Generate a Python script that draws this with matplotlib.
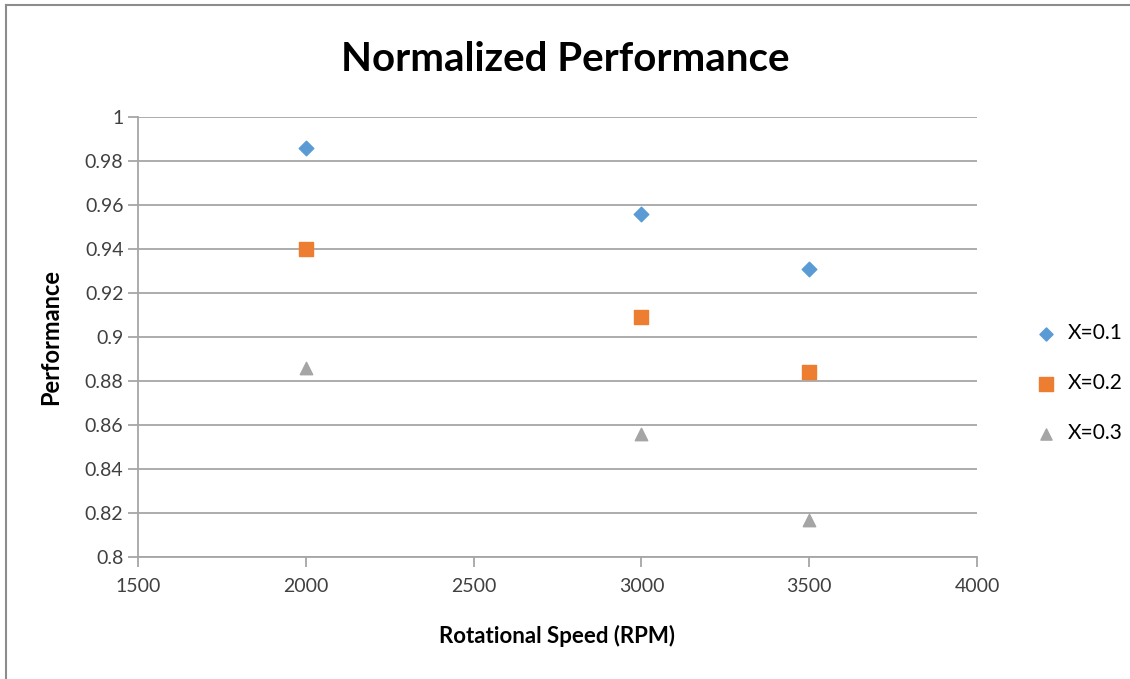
import numpy as np
import matplotlib.pyplot as plt
from matplotlib.lines import Line2D

plt.rcParams['font.family'] = ['Lato', 'DejaVu Sans']

# dados
rpm = [2000, 3000, 3500]
perf_x01 = [0.986, 0.956, 0.931]
perf_x02 = [0.940, 0.909, 0.884]
perf_x03 = [0.886, 0.856, 0.817]
labels = ['X=0.1', 'X=0.2', 'X=0.3']

fig = plt.figure(figsize=(11.3, 6.79), dpi=100)
ax = fig.add_axes([0.1221, 0.1797, 0.7425, 0.648])

ax.scatter(rpm, perf_x01, marker='D', s=55, color='#5B9BD5', label=labels[0], zorder=3)
ax.scatter(rpm, perf_x02, marker='s', s=110, color='#ED7D31', label=labels[1], zorder=3)
ax.scatter(rpm, perf_x03, marker='^', s=80, color='#A5A5A5', label=labels[2], zorder=3)

ax.set_xlim(1500, 4000)
ax.set_ylim(0.8, 1.0)
ax.set_xticks(np.arange(1500, 4001, 500))
ax.set_yticks(np.arange(0.8, 1.0001, 0.02))
ax.set_yticklabels(['0.8', '0.82', '0.84', '0.86', '0.88', '0.9', '0.92', '0.94', '0.96', '0.98', '1'])
ax.grid(axis='y', color='#A6A6A6', linewidth=1.3)
ax.set_axisbelow(True)
for s in ['top', 'right']:
    ax.spines[s].set_visible(False)
for s in ['left', 'bottom']:
    ax.spines[s].set_color('#A6A6A6')
    ax.spines[s].set_linewidth(1.3)
ax.tick_params(axis='both', colors='#A6A6A6', labelcolor='#404040', labelsize=14, length=7, width=1.3)
ax.tick_params(axis='x', pad=8)

ax.set_xlabel('Rotational Speed (RPM)', fontsize=16, fontweight='bold', labelpad=22)
ax.set_ylabel('Performance', fontsize=17, fontweight='bold', labelpad=16)
fig.text(0.5, 0.912, 'Normalized Performance', ha='center', va='center', fontsize=29, fontweight='bold')

ax.legend(loc='center left', bbox_to_anchor=(1.035, 0.395), frameon=False, fontsize=15,
          handletextpad=0.05, labelspacing=1.45, markerscale=0.9)

# moldura do gráfico
fig.add_artist(Line2D([6/1130, 6/1130], [0, 1 - 5/679], color='#8C8C8C', lw=1.5, transform=fig.transFigure))
fig.add_artist(Line2D([6/1130, 1], [1 - 5/679, 1 - 5/679], color='#8C8C8C', lw=1.5, transform=fig.transFigure))

fig.savefig('out.png', dpi=100)
